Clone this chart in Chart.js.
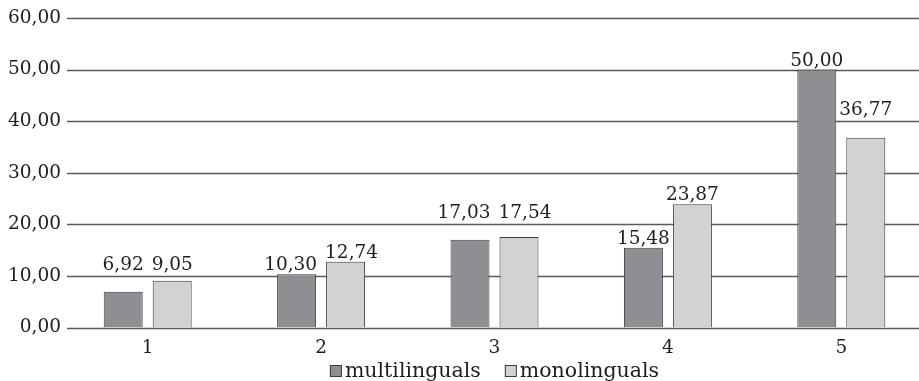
<!DOCTYPE html>
<html>
<head>
<meta charset="utf-8">
<script src="https://cdn.jsdelivr.net/npm/chart.js@4/dist/chart.umd.min.js"></script>
<style>
  html, body { margin: 0; padding: 0; background: #fff; overflow: hidden; }
  #wrap { width: 928px; height: 381px; }
</style>
</head>
<body>
<div id="wrap"><canvas id="c" width="928" height="381"></canvas></div>
<script>
// Categories and series values
const categories = ['1', '2', '3', '4', '5'];
const multilinguals = [6.92, 10.30, 17.03, 15.48, 50.00];
const monolinguals = [9.05, 12.74, 17.54, 23.87, 36.77];
const yTicks = [0, 10, 20, 30, 40, 50, 60];

const FONT = '"DejaVu Serif", "Liberation Serif", serif';
const TEXT = '#1e1e1e';
const GRID = '#5a5a5a';

const fmt = v => v.toFixed(2).replace('.', ',');

// Horizontal grid lines, starting a little to the right of the tick labels
const gridPlugin = {
  id: 'hgrid',
  beforeDatasetsDraw(chart) {
    const { ctx } = chart;
    const y = chart.scales.y;
    ctx.save();
    ctx.strokeStyle = GRID;
    ctx.lineWidth = 1.3;
    yTicks.forEach(t => {
      const py = Math.round(y.getPixelForValue(t)) + 0.5;
      ctx.beginPath();
      ctx.moveTo(67, py);
      ctx.lineTo(chart.width, py);
      ctx.stroke();
    });
    ctx.restore();
  }
};

// Value labels above bars; a label whose bar ends just under a grid line sits above that line
const valueLabels = {
  id: 'valueLabels',
  afterDatasetsDraw(chart) {
    const { ctx } = chart;
    const y = chart.scales.y;
    ctx.save();
    ctx.font = '18.5px ' + FONT;
    ctx.fillStyle = TEXT;
    ctx.textAlign = 'center';
    ctx.textBaseline = 'alphabetic';
    const perCat = categories.map(() => []);
    chart.data.datasets.forEach((ds, di) => {
      const meta = chart.getDatasetMeta(di);
      meta.data.forEach((bar, i) => {
        const v = ds.data[i];
        const line = Math.ceil(v / 10) * 10;
        const onLine = line > v && line - v < 3.5;
        const anchor = onLine ? line : v;
        const text = fmt(v);
        const w = ctx.measureText(text).width;
        perCat[i].push({ text, x: bar.x, y: y.getPixelForValue(anchor) - (onLine ? 6 : 4), w });
      });
    });
    perCat.forEach(items => {
      if (items.length === 2) {
        const [a, b] = items;
        const gap = (b.x - b.w / 2) - (a.x + a.w / 2);
        if (Math.abs(a.y - b.y) < 16 && gap < 8) {
          const s = (8 - gap) / 2;
          a.x -= s; b.x += s;
        }
      }
      items.forEach(it => ctx.fillText(it.text, it.x, it.y));
    });
    ctx.restore();
  }
};

// Legend row under the category axis
const legendRow = {
  id: 'legendRow',
  afterDraw(chart) {
    const { ctx } = chart;
    ctx.save();
    ctx.font = '20.5px ' + FONT;
    ctx.textBaseline = 'alphabetic';
    const box = 12, textGap = 3, itemGap = 24;
    const items = chart.data.datasets.map(ds => ({
      label: ds.label, fill: ds.backgroundColor, stroke: ds.borderColor,
      w: ctx.measureText(ds.label).width
    }));
    let total = 0;
    items.forEach((it, i) => { total += box + textGap + it.w + (i ? itemGap : 0); });
    const baseline = 377;
    let x = (chart.chartArea.left + chart.chartArea.right) / 2 - total / 2;
    items.forEach(it => {
      ctx.fillStyle = it.fill;
      ctx.fillRect(x, baseline - 12, box, box);
      ctx.strokeStyle = it.stroke;
      ctx.lineWidth = 1;
      ctx.strokeRect(x + 0.5, baseline - 11.5, box - 1, box - 1);
      ctx.fillStyle = TEXT;
      ctx.fillText(it.label, x + box + textGap, baseline);
      x += box + textGap + it.w + itemGap;
    });
    ctx.restore();
  }
};

new Chart(document.getElementById('c'), {
  type: 'bar',
  data: {
    labels: categories,
    datasets: [
      {
        label: 'multilinguals',
        data: multilinguals,
        backgroundColor: '#8e8f93',
        borderColor: '#3c3c3c',
        borderWidth: 1
      },
      {
        label: 'monolinguals',
        data: monolinguals,
        backgroundColor: '#d1d2d4',
        borderColor: '#3c3c3c',
        borderWidth: 1
      }
    ]
  },
  options: {
    responsive: false,
    animation: false,
    layout: { padding: { top: 18, right: 0, bottom: 0, left: 0 } },
    plugins: {
      legend: { display: false },
      tooltip: { enabled: false }
    },
    datasets: {
      bar: { categoryPercentage: 0.565, barPercentage: 0.796 }
    },
    scales: {
      x: {
        grid: { display: false, drawTicks: false },
        border: { display: false },
        ticks: {
          color: TEXT,
          font: { family: FONT, size: 18.5 },
          padding: 10
        },
        afterFit(scale) { scale.height = 53.5; }
      },
      y: {
        min: 0,
        max: 60,
        grid: { display: false, drawTicks: false },
        border: { display: false },
        afterBuildTicks(scale) { scale.ticks = yTicks.map(v => ({ value: v })); },
        ticks: {
          color: TEXT,
          font: { family: FONT, size: 18.5 },
          padding: 0,
          callback: v => fmt(v)
        },
        afterFit(scale) { scale.width = 61; }
      }
    }
  },
  plugins: [gridPlugin, valueLabels, legendRow]
});
</script>
</body>
</html>
